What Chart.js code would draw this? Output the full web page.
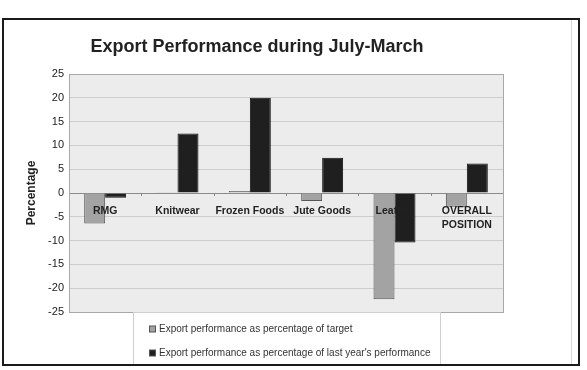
<!DOCTYPE html>
<html>
<head>
<meta charset="utf-8">
<script src="https://cdn.jsdelivr.net/npm/chart.js@4/dist/chart.umd.min.js"></script>
<style>
  html, body { margin: 0; padding: 0; background: #fff; }
  #wrap { position: relative; width: 587px; height: 370px; }
</style>
</head>
<body>
<div id="wrap"><canvas id="chart" width="587" height="370"></canvas></div>
<script>
// Dados
const categories = ['RMG', 'Knitwear', 'Frozen Foods', 'Jute Goods', 'Leather', ['OVERALL', 'POSITION']];
const pctOfTarget = [-6.4, 0.15, 0.4, -1.7, -22.3, -2.9];
const pctOfLastYear = [-1.0, 12.5, 20.0, 7.4, -10.4, 6.2];
const yTicks = [-25, -20, -15, -10, -5, 0, 5, 10, 15, 20, 25];
const titleText = 'Export Performance during July-March';
const yTitle = 'Percentage';
const seriesNames = ['Export performance as percentage of target',
                     "Export performance as percentage of last year's performance"];

const FONT = '"Liberation Sans", Arial, sans-serif';

// fundo, moldura, rótulos de categoria, título e legenda
const decor = {
    id: 'decor',
    beforeDraw(chart) {
        const { ctx, chartArea: a } = chart;
        ctx.save();
        ctx.fillStyle = '#ececec';
        ctx.fillRect(a.left, a.top, a.right - a.left, a.bottom - a.top);
        ctx.restore();
    },
    afterDatasetsDraw(chart) {
        const { ctx, chartArea: a, scales } = chart;
        const y0 = scales.y.getPixelForValue(0);
        ctx.save();
        // pequenas marcas do eixo de categorias sobre a linha do zero
        ctx.strokeStyle = '#8a8a8a';
        ctx.lineWidth = 1;
        for (let i = 1; i < categories.length; i++) {
            const xb = Math.round(scales.x.getPixelForValue(i - 0.5)) + 0.5;
            ctx.beginPath();
            ctx.moveTo(xb, y0);
            ctx.lineTo(xb, y0 + 3);
            ctx.stroke();
        }
        ctx.fillStyle = '#222';
        ctx.font = 'bold 10.5px ' + FONT;
        ctx.textAlign = 'center';
        ctx.textBaseline = 'middle';
        categories.forEach((c, i) => {
            const x = scales.x.getPixelForValue(i);
            const lines = Array.isArray(c) ? c : [c];
            lines.forEach((l, j) => ctx.fillText(l, x, y0 + 18 + j * 14));
        });
        // borda da área de plotagem
        ctx.strokeStyle = '#a8a8a8';
        ctx.strokeRect(a.left + 0.5, a.top + 0.5, a.right - a.left, a.bottom - a.top);
        ctx.restore();
    },
    afterDraw(chart) {
        const { ctx, chartArea: a } = chart;
        ctx.save();
        // título
        ctx.fillStyle = '#222';
        ctx.font = 'bold 18px ' + FONT;
        ctx.textAlign = 'center';
        ctx.textBaseline = 'middle';
        ctx.fillText(titleText, 257, 47);

        // caixa da legenda
        ctx.strokeStyle = '#cfcfcf';
        ctx.lineWidth = 1;
        ctx.strokeRect(133.5, a.bottom + 0.5, 307, 53);
        ctx.font = '10px ' + FONT;
        ctx.textAlign = 'left';
        chart.data.datasets.forEach((ds, i) => {
            const yy = 329 + i * 24;
            ctx.fillStyle = ds.backgroundColor;
            ctx.fillRect(149.5, yy - 3, 6, 6);
            ctx.strokeStyle = '#555';
            ctx.strokeRect(149.5, yy - 3, 6, 6);
            ctx.fillStyle = '#333';
            ctx.fillText(ds.label, 159, yy + 0.5);
        });

        // moldura externa
        ctx.strokeStyle = '#d8d8d8';
        ctx.beginPath();
        ctx.moveTo(571.5, 20); ctx.lineTo(571.5, 364);
        ctx.stroke();
        ctx.strokeStyle = '#1a1a1a';
        ctx.lineWidth = 2;
        ctx.strokeRect(3, 19, 576, 346);
        ctx.restore();
    }
};

new Chart(document.getElementById('chart'), {
    type: 'bar',
    data: {
        labels: categories,
        datasets: [
            {
                label: seriesNames[0],
                data: pctOfTarget,
                backgroundColor: '#a3a3a3',
                borderColor: '#555',
                borderWidth: 1,
                barPercentage: 1,
                categoryPercentage: 0.58
            },
            {
                label: seriesNames[1],
                data: pctOfLastYear,
                backgroundColor: '#1f1f1f',
                borderColor: '#111',
                borderWidth: 1,
                barPercentage: 1,
                categoryPercentage: 0.58
            }
        ]
    },
    options: {
        responsive: false,
        animation: false,
        devicePixelRatio: 1,
        layout: { padding: { left: 20, top: 74, right: 84, bottom: 58 } },
        plugins: {
            legend: { display: false },
            title: { display: false },
            tooltip: { enabled: false }
        },
        scales: {
            x: { display: false },
            y: {
                min: -25,
                max: 25,
                afterBuildTicks: (s) => { s.ticks = yTicks.map(v => ({ value: v })); },
                afterFit: (s) => { s.width = 49; },
                border: { display: false },
                grid: {
                    drawTicks: false,
                    color: (c) => c.tick && c.tick.value === 0 ? '#8a8a8a' : '#cdcdcd'
                },
                ticks: { color: '#222', padding: 5, font: { family: FONT, size: 11 } },
                title: {
                    display: true,
                    text: yTitle,
                    color: '#222',
                    font: { family: FONT, size: 12, weight: 'bold' }
                }
            }
        }
    },
    plugins: [decor]
});
</script>
</body>
</html>
